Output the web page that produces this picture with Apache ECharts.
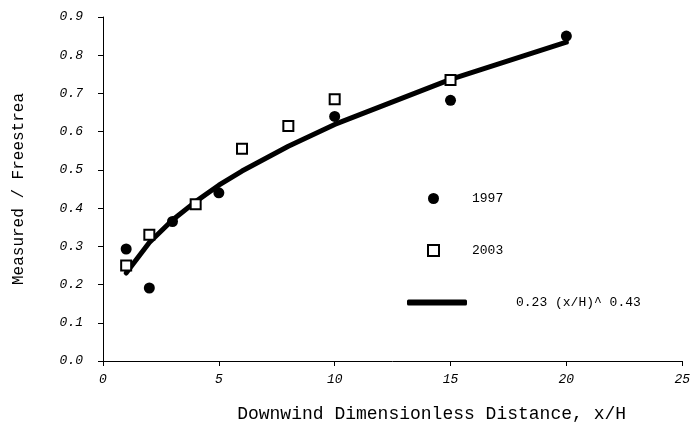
<!DOCTYPE html>
<html>
<head>
<meta charset="utf-8">
<script src="https://cdn.jsdelivr.net/npm/echarts@6/dist/echarts.min.js"></script>
<style>
  html, body { margin: 0; padding: 0; background: #fff; }
  #chart { width: 693px; height: 432px; }
</style>
</head>
<body>
<div id="chart"></div>
<script>
  // 1997 measurements (x/H, ratio)
  const x1997 = [1, 2, 3, 5, 10, 15, 20];
  const y1997 = [0.293, 0.191, 0.365, 0.44, 0.64, 0.682, 0.85];

  // 2003 measurements
  const x2003 = [1, 2, 4, 6, 8, 10, 15];
  const y2003 = [0.25, 0.33, 0.41, 0.555, 0.615, 0.685, 0.735];

  // fitted curve
  const xFit = [1, 2, 3, 4, 5, 6, 8, 10, 15, 20];
  const yFit = [0.23, 0.31, 0.369, 0.417, 0.46, 0.497, 0.562, 0.619, 0.737, 0.834];

  const font = '"Liberation Mono", "DejaVu Sans Mono", monospace';

  const chart = echarts.init(document.getElementById('chart'));

  const zip = (xs, ys) => xs.map((x, i) => [x, ys[i]]);

  const option = {
    animation: false,
    backgroundColor: '#fff',
    grid: {
      left: 103,
      right: 10,
      top: 17,
      bottom: 71,
    },
    legend: [
      {
        data: ['1997', '2003'],
        orient: 'vertical',
        left: 422,
        top: 187,
        itemWidth: 11,
        itemHeight: 11,
        itemGap: 39,
        textStyle: { fontFamily: font, fontSize: 13, color: '#000', padding: [0, 0, 0, 28] },
      },
      {
        data: ['0.23 (x/H)^ 0.43'],
        left: 402,
        top: 291,
        itemWidth: 60,
        itemHeight: 6,
        icon: 'roundRect',
        textStyle: { fontFamily: font, fontSize: 13, color: '#000', padding: [0, 0, 0, 44] },
      },
    ],
    xAxis: {
      type: 'value',
      min: 0,
      max: 25,
      interval: 5,
      name: 'Downwind Dimensionless Distance, x/H',
      nameLocation: 'middle',
      nameGap: 44,
      nameTextStyle: {
        fontFamily: font,
        fontSize: 18,
        color: '#000',
        padding: [0, 0, 0, 78],
      },
      splitLine: { show: false },
      axisLine: { lineStyle: { color: '#000', width: 1 } },
      axisTick: { length: 5, lineStyle: { color: '#000' } },
      axisLabel: {
        fontFamily: font,
        fontStyle: 'italic',
        fontSize: 13,
        color: '#000',
        margin: 12,
      },
    },
    yAxis: {
      type: 'value',
      min: 0,
      max: 0.9,
      interval: 0.1,
      name: 'Measured / Freestrea',
      nameLocation: 'middle',
      nameGap: 76,
      nameTextStyle: { fontFamily: font, fontSize: 16, color: '#000' },
      splitLine: { show: false },
      axisLine: { show: true, lineStyle: { color: '#000', width: 1 } },
      axisTick: { show: true, length: 5, lineStyle: { color: '#000' } },
      axisLabel: {
        fontFamily: font,
        fontStyle: 'italic',
        fontSize: 13,
        color: '#000',
        margin: 20,
        formatter: (v) => v.toFixed(1),
      },
    },
    series: [
      {
        name: '0.23 (x/H)^ 0.43',
        type: 'line',
        data: zip(xFit, yFit),
        showSymbol: false,
        symbol: 'none',
        itemStyle: { color: '#000' },
        lineStyle: { color: '#000', width: 5, cap: 'round', join: 'round' },
        z: 2,
      },
      {
        name: '1997',
        type: 'scatter',
        data: zip(x1997, y1997),
        symbol: 'circle',
        symbolSize: 11,
        itemStyle: { color: '#000', opacity: 1 },
        z: 3,
      },
      {
        name: '2003',
        type: 'scatter',
        data: zip(x2003, y2003),
        symbol: 'rect',
        symbolSize: 10,
        itemStyle: { color: '#fff', borderColor: '#000', borderWidth: 2, opacity: 1 },
        z: 4,
      },
    ],
  };

  chart.setOption(option);
</script>
</body>
</html>
